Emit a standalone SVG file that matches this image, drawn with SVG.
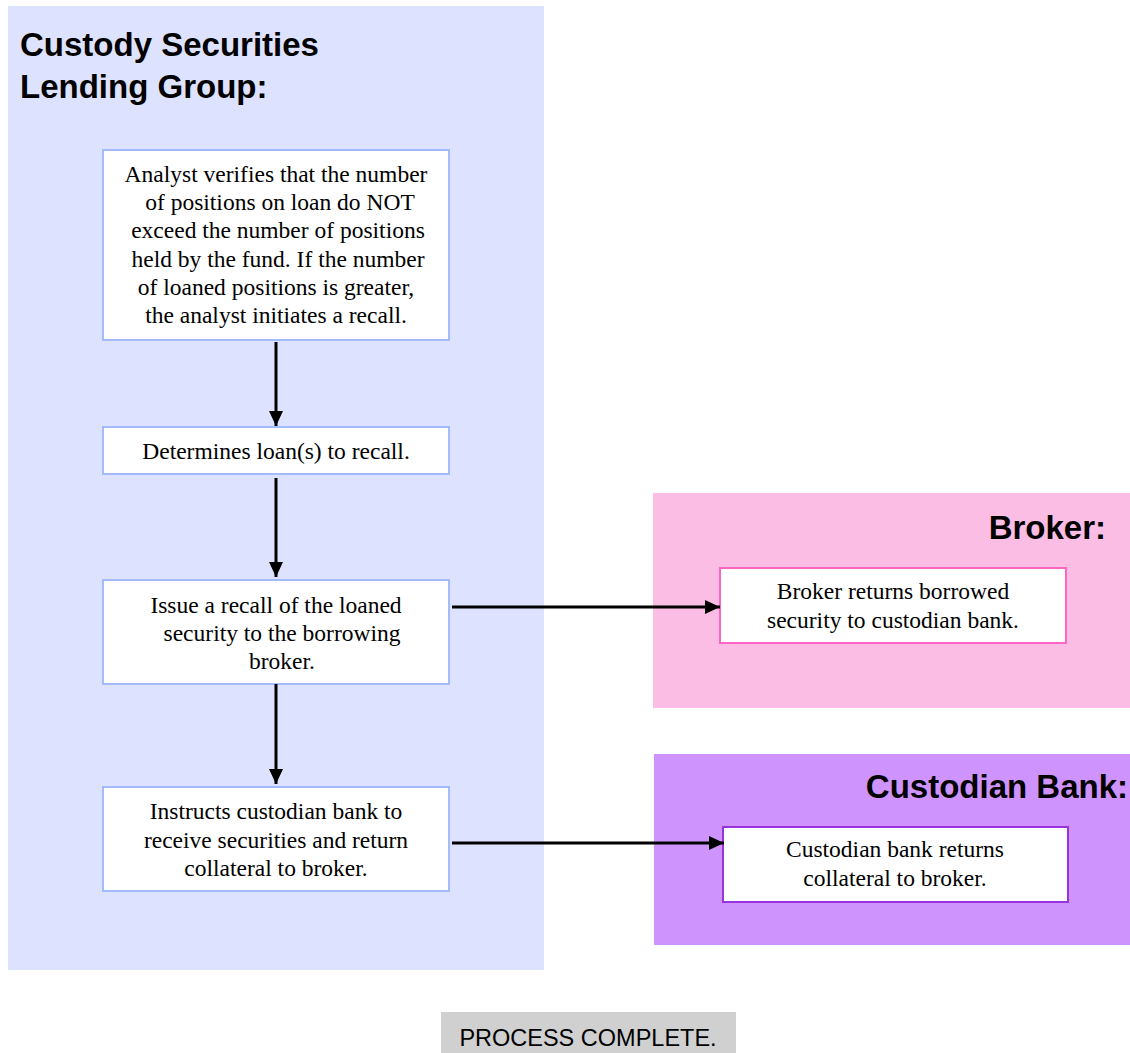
<svg xmlns="http://www.w3.org/2000/svg" width="1130" height="1053" viewBox="0 0 1130 1053">
<defs>
<style>
.lane-title{font-family:"Liberation Sans",Arial,sans-serif;font-weight:bold;font-size:33px;fill:#000}
.txt{font-family:"Liberation Serif","Times New Roman",serif;font-size:23.5px;fill:#000;text-anchor:middle}
.bluebox{fill:#fff;stroke:#a3bbfb;stroke-width:2}
.conn{stroke:#000;stroke-width:3;fill:none}
</style>
<marker id="arrow" markerWidth="16" markerHeight="16" refX="15" refY="8" orient="auto" markerUnits="userSpaceOnUse">
<path d="M0,1 L15,8 L0,15 Z" fill="#000"/>
</marker>
</defs>
<rect width="1130" height="1053" fill="#fff"/>
<g id="lane-custody">
<rect x="8" y="6" width="536" height="964" fill="#dde3fe"/>
<text class="lane-title" x="20" y="56">Custody Securities</text>
<text class="lane-title" x="20" y="98">Lending Group:</text>
</g>
<g id="lane-broker">
<rect x="653" y="493" width="477" height="215" fill="#fbbde3"/>
<text class="lane-title" x="1106" y="539" text-anchor="end">Broker:</text>
</g>
<g id="lane-custodian">
<rect x="654" y="754" width="476" height="191" fill="#cf93fd"/>
<text class="lane-title" x="1128" y="798" text-anchor="end">Custodian Bank:</text>
</g>
<g id="node-verify">
<rect class="bluebox" x="103" y="150" width="346" height="190"/>
<text class="txt" x="276" y="182">Analyst verifies that the number</text>
<text class="txt" x="280" y="210">of positions on loan do NOT</text>
<text class="txt" x="278" y="238">exceed the number of positions</text>
<text class="txt" x="278" y="267">held by the fund. If the number</text>
<text class="txt" x="276" y="295">of loaned positions is greater,</text>
<text class="txt" x="276" y="323">the analyst initiates a recall.</text>
</g>
<g id="node-determine">
<rect class="bluebox" x="103" y="427" width="346" height="47"/>
<text class="txt" x="276" y="459">Determines loan(s) to recall.</text>
</g>
<g id="node-issue">
<rect class="bluebox" x="103" y="580" width="346" height="104"/>
<text class="txt" x="276" y="613">Issue a recall of the loaned</text>
<text class="txt" x="282" y="641">security to the borrowing</text>
<text class="txt" x="282" y="669">broker.</text>
</g>
<g id="node-instruct">
<rect class="bluebox" x="103" y="787" width="346" height="104"/>
<text class="txt" x="276" y="819">Instructs custodian bank to</text>
<text class="txt" x="276" y="848">receive securities and return</text>
<text class="txt" x="276" y="876">collateral to broker.</text>
</g>
<g id="node-broker-return">
<rect x="720" y="568" width="346" height="75" fill="#fff" stroke="#ff66c4" stroke-width="2"/>
<text class="txt" x="893" y="599">Broker returns borrowed</text>
<text class="txt" x="893" y="628">security to custodian bank.</text>
</g>
<g id="node-bank-return">
<rect x="723" y="827" width="345" height="75" fill="#fff" stroke="#9933dd" stroke-width="2"/>
<text class="txt" x="895" y="857">Custodian bank returns</text>
<text class="txt" x="895" y="886">collateral to broker.</text>
</g>
<g id="node-complete">
<rect x="441" y="1012" width="295" height="41" fill="#d0d0d0"/>
<text x="588" y="1046" text-anchor="middle" font-family="'Liberation Sans',Arial,sans-serif" font-size="23.5" fill="#000">PROCESS COMPLETE.</text>
</g>
<g id="connectors">
<line class="conn" x1="276" y1="342" x2="276" y2="426" marker-end="url(#arrow)"/>
<line class="conn" x1="276" y1="478" x2="276" y2="577" marker-end="url(#arrow)"/>
<line class="conn" x1="276" y1="684" x2="276" y2="784" marker-end="url(#arrow)"/>
<line class="conn" x1="452" y1="607" x2="720" y2="607" marker-end="url(#arrow)"/>
<line class="conn" x1="452" y1="843" x2="724" y2="843" marker-end="url(#arrow)"/>
</g>
</svg>
